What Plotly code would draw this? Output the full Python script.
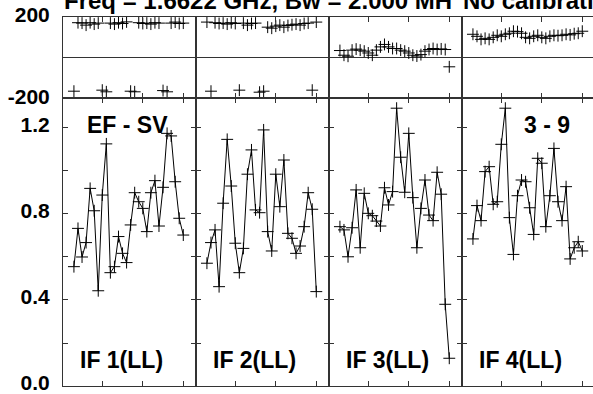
import plotly.graph_objects as go
from plotly.subplots import make_subplots

channels = list(range(3, 31))

amp_if1 = [0.555, 0.733, 0.600, 0.667, 0.919, 0.815, 0.443, 0.888, 1.126, 0.527,
           0.555, 0.695, 0.617, 0.574, 0.749, 0.899, 0.857, 0.826, 0.718, 0.899,
           0.955, 0.744, 0.924, 1.175, 1.163, 0.950, 0.780, 0.702]
amp_if2 = [0.571, 0.667, 0.726, 0.462, 0.850, 1.147, 0.930, 0.664, 0.527, 0.640,
           0.985, 1.098, 0.819, 0.806, 1.191, 0.718, 0.628, 0.985, 0.834, 1.051,
           0.710, 0.687, 0.617, 0.651, 0.741, 0.899, 0.822, 0.439]
amp_if3 = [0.741, 0.726, 0.601, 0.736, 0.912, 0.643, 0.896, 0.803, 0.792, 0.767,
           0.744, 0.922, 0.842, 0.904, 1.292, 1.064, 0.901, 1.175, 0.876, 0.643,
           0.826, 0.958, 0.795, 0.769, 0.994, 0.892, 0.380, 0.129]
amp_if4 = [0.684, 0.839, 0.769, 0.997, 1.020, 0.845, 0.857, 1.124, 1.292, 0.783,
           0.612, 0.885, 0.958, 0.950, 0.829, 0.705, 1.059, 1.036, 0.741, 0.885,
           1.105, 0.857, 0.769, 0.927, 0.591, 0.643, 0.671, 0.628]

phase_if1 = [-165, 172, 170, 160, 172, 165, 170, -160, -168, 170,
             165, 172, 168, 176, -165, -168, 172, 168, 170, 165,
             172, 170, -162, -168, 170, 175, 168, 170]
phase_if2 = [175, -165, 172, 168, 170, 165, 172, 168, -160, 170,
             160, 168, 170, -170, -165, 150, 145, 155, 160, 150,
             158, 162, 165, 160, 168, 170, -160, 175]
phase_if3 = [35, 12, 7, 37, 42, 37, 32, 23, 12, 37,
             53, 65, 53, 45, 45, 37, 32, 23, 12, 8,
             15, 32, 40, 45, 40, 43, 40, -45]
phase_if4 = [115, 105, 90, 95, 90, 100, 110, 105, 115, 120,
             130, 128, 120, 100, 95, 105, 110, 100, 95, 105,
             110, 108, 110, 115, 112, 118, 120, 130]

if_labels = ["IF 1(LL)", "IF 2(LL)", "IF 3(LL)", "IF 4(LL)"]
amp_tickvals = [0.0, 0.2, 0.4, 0.6, 0.8, 1.0, 1.2]
amp_ticktext = ["0.0", "", "0.4", "", "0.8", "", "1.2"]
phase_tickvals = [-200, 200]
phase_ticktext = ["-200", "200"]
chan_ticks = [10, 20, 30]

amps = [amp_if1, amp_if2, amp_if3, amp_if4]
phases = [phase_if1, phase_if2, phase_if3, phase_if4]

W, H = 593, 394
ML, MT, MB = 63, 17, 8
plot_w = W - ML
plot_h = H - MT - MB
panel_px = [133, 133, 133, plot_w - 399]
px_per_chan = 4.05
x0 = 0.3

fig = make_subplots(rows=2, cols=4, row_heights=[81.3, 287.7],
                    column_widths=panel_px, horizontal_spacing=0,
                    vertical_spacing=0)

FONT = "Liberation Sans, Arial, sans-serif"
marker = dict(symbol="cross-thin", size=8.5, color="black",
              line=dict(width=1, color="black"))
axcol = "#333333"

for i in range(4):
    col = i + 1
    fig.add_trace(go.Scatter(x=channels, y=phases[i], mode="markers",
                             marker=marker, showlegend=False,
                             hoverinfo="skip"), row=1, col=col)
    fig.add_trace(go.Scatter(x=channels, y=amps[i], mode="lines+markers",
                             line=dict(color="black", width=1),
                             marker=marker, showlegend=False,
                             hoverinfo="skip"), row=2, col=col)
    xr = [x0, x0 + panel_px[i] / px_per_chan]
    for row in (1, 2):
        fig.update_xaxes(range=xr, tickvals=chan_ticks, ticks="inside",
                         ticklen=5, tickcolor=axcol, tickwidth=1,
                         showticklabels=False, showline=True, linecolor=axcol,
                         linewidth=1, mirror="ticks", showgrid=False,
                         zeroline=False, row=row, col=col)
    last = (i == 3)
    fig.update_yaxes(range=[-200, 200], tickvals=phase_tickvals,
                     ticktext=phase_ticktext, ticks="",
                     showticklabels=(i == 0), showline=True, linecolor=axcol,
                     linewidth=1, mirror=(not last), showgrid=False,
                     zeroline=True, zerolinecolor=axcol, zerolinewidth=1,
                     tickfont=dict(family=FONT, size=21, color="black",
                                   weight="bold"),
                     ticklabelstandoff=8, ticklabeloverflow="allow",
                     ticklabelshift=-2, row=1, col=col)
    fig.update_yaxes(range=[0, 1.338], tickvals=amp_tickvals,
                     ticktext=amp_ticktext, ticks="inside", ticklen=5,
                     tickcolor=axcol, tickwidth=1,
                     showticklabels=(i == 0), showline=True, linecolor=axcol,
                     linewidth=1, mirror=(False if last else "ticks"),
                     showgrid=False, zeroline=False,
                     tickfont=dict(family=FONT, size=21, color="black",
                                   weight="bold"),
                     ticklabelstandoff=8, ticklabeloverflow="allow",
                     ticklabelshift=-3, row=2, col=col)


def px_x(px):
    return (px - ML) / plot_w


def px_y(py):
    return (H - MB - py) / plot_h


annos = []
lab_font = dict(family=FONT, size=23, color="black", weight="bold")
left = ML
for i, lab in enumerate(if_labels):
    annos.append(dict(text=lab, x=px_x(left + 14.5), y=px_y(360),
                      xref="paper", yref="paper", xanchor="left",
                      yanchor="middle", showarrow=False, font=lab_font))
    left += panel_px[i]
annos.append(dict(text="EF - SV", x=px_x(127), y=px_y(125), xref="paper",
                  yref="paper", xanchor="center", yanchor="middle",
                  showarrow=False, font=lab_font))
annos.append(dict(text="3 - 9", x=px_x(546.5), y=px_y(125), xref="paper",
                  yref="paper", xanchor="center", yanchor="middle",
                  showarrow=False, font=lab_font))
title_font = dict(family=FONT, size=24, color="black", weight="bold")
annos.append(dict(text="Freq = 1.6622 GHz, Bw = 2.000 MH", x=px_x(62),
                  y=px_y(0), xref="paper", yref="paper", xanchor="left",
                  yanchor="middle", showarrow=False, font=title_font))
annos.append(dict(text="No calibrati", x=px_x(596), y=px_y(0), xref="paper",
                  yref="paper", xanchor="right", yanchor="middle",
                  showarrow=False, font=title_font))

fig.update_layout(width=W, height=H, margin=dict(l=ML, r=0, t=MT, b=MB),
                  paper_bgcolor="white", plot_bgcolor="white",
                  annotations=annos, showlegend=False)

fig.write_html("out.html", config={"displayModeBar": False},
               post_script="document.body.style.margin='0';")
